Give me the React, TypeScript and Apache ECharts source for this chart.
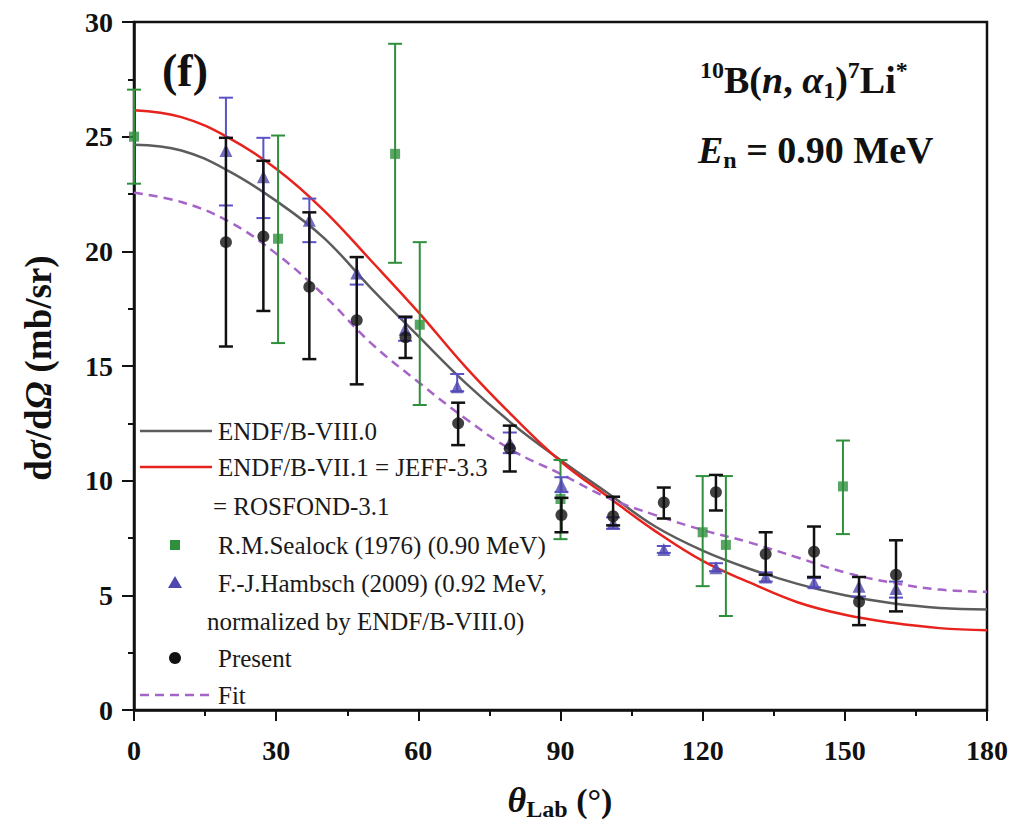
import React, { useEffect, useRef } from "react";
import * as echarts from "echarts";

// ---- curves (every 10 degrees) ----
const curveAngles = [0, 10, 20, 30, 40, 50, 60, 70, 80, 90, 100, 110, 120, 130, 140, 150, 160, 170, 180];
const endf80 = [24.65, 24.4, 23.5, 22.2, 20.6, 18.4, 16.3, 14.25, 12.45, 10.9, 9.45, 8.0, 6.95, 6.15, 5.5, 5.0, 4.65, 4.45, 4.38];
const endf71 = [26.15, 25.85, 24.95, 23.6, 21.8, 19.6, 17.35, 14.95, 12.8, 10.85, 9.3, 7.8, 6.5, 5.55, 4.7, 4.15, 3.8, 3.57, 3.48];
const fitCurve = [22.55, 22.15, 21.3, 19.9, 18.1, 16.0, 14.3, 12.7, 11.3, 10.3, 9.25, 8.5, 7.85, 7.3, 6.65, 6.0, 5.55, 5.25, 5.15];

// ---- Present ----
const presentAngles = [19.4, 27.3, 37, 47, 57.3, 68.4, 79.3, 90.2, 101.1, 111.8, 122.8, 133.3, 143.5, 153, 160.8];
const presentValues = [20.4, 20.65, 18.45, 17.0, 16.25, 12.5, 11.4, 8.5, 8.45, 9.05, 9.5, 6.8, 6.9, 4.72, 5.9];
const presentLow = [15.85, 17.4, 15.3, 14.2, 15.35, 11.55, 10.4, 7.75, 8.05, 8.35, 8.7, 5.9, 5.8, 3.7, 4.3];
const presentHigh = [24.95, 23.95, 21.7, 19.75, 17.15, 13.4, 12.4, 9.25, 9.3, 9.7, 10.25, 7.75, 8.0, 5.8, 7.4];

// ---- F.-J. Hambsch (2009) ----
const hambschAngles = [19.4, 27.3, 37, 47, 57.2, 68.2, 79.3, 90.2, 101.1, 111.8, 122.8, 133.3, 143.5, 153, 160.8];
const hambschValues = [24.4, 23.25, 21.35, 19.05, 16.6, 14.1, 11.65, 9.8, 8.15, 7.0, 6.2, 5.8, 5.55, 5.4, 5.3];
const hambschLow = [22.0, 21.45, 20.4, 18.55, 16.1, 13.9, 11.2, 9.5, 7.9, 6.85, 6.05, 5.6, 5.35, 4.95, 4.9];
const hambschHigh = [26.7, 24.95, 22.3, 19.75, 17.1, 14.65, 12.1, 10.15, 8.4, 7.15, 6.4, 6.0, 5.75, 5.8, 5.6];

// ---- R.M. Sealock (1976) ----
const sealockAngles = [0, 30.4, 55.1, 60.3, 90, 120, 124.9, 149.6];
const sealockValues = [25.0, 20.55, 24.25, 16.8, 9.2, 7.75, 7.2, 9.75];
const sealockLow = [22.95, 16.0, 19.5, 13.3, 7.45, 5.4, 4.1, 7.67];
const sealockHigh = [27.05, 25.05, 29.05, 20.4, 10.9, 10.2, 10.2, 11.75];

// ---- axes ----
const xTicks = [0, 30, 60, 90, 120, 150, 180];
const yTicks = [0, 5, 10, 15, 20, 25, 30];

const FONT = "'Liberation Serif', 'Times New Roman', serif";
const C_GRAY = "#5c5c5c";
const C_RED = "#e8221c";
const C_FIT = "#a664c8";
const C_GREEN = "#2f8f3c";
const C_BLUE = "#4f47b0";
const C_BLUE_ERR = "#5b52c6";
const C_BLACK = "#111111";

function errorSeries(angles: number[], low: number[], high: number[], color: string, width: number, cap: number, z: number) {
  return {
    type: "custom",
    z,
    silent: true,
    data: angles.map((a, i) => [a, low[i], high[i]]),
    renderItem: (params: any, api: any) => {
      const x = api.value(0);
      const pLo = api.coord([x, api.value(1)]);
      const pHi = api.coord([x, api.value(2)]);
      const hw = cap / 2;
      const style = { stroke: color, lineWidth: width };
      return {
        type: "group",
        children: [
          { type: "line", shape: { x1: pLo[0], y1: pLo[1], x2: pHi[0], y2: pHi[1] }, style },
          { type: "line", shape: { x1: pLo[0] - hw, y1: pLo[1], x2: pLo[0] + hw, y2: pLo[1] }, style },
          { type: "line", shape: { x1: pHi[0] - hw, y1: pHi[1], x2: pHi[0] + hw, y2: pHi[1] }, style },
        ],
      };
    },
  };
}

const richBase = {
  b: { fontFamily: FONT, fontWeight: "bold", fontSize: 38, lineHeight: 44, fill: "#111" },
  bi: { fontFamily: FONT, fontWeight: "bold", fontStyle: "italic", fontSize: 38, lineHeight: 44, fill: "#111" },
  sup: { fontFamily: FONT, fontWeight: "bold", fontSize: 24, lineHeight: 24, verticalAlign: "top", fill: "#111" },
  sub: { fontFamily: FONT, fontWeight: "bold", fontSize: 24, lineHeight: 24, verticalAlign: "bottom", fill: "#111" },
};

const xTitleRich = {
  bi: { fontFamily: FONT, fontWeight: "bold", fontStyle: "italic", fontSize: 36, lineHeight: 42, fill: "#111" },
  b: { fontFamily: FONT, fontWeight: "bold", fontSize: 34, lineHeight: 42, fill: "#111" },
  sub: { fontFamily: FONT, fontWeight: "bold", fontSize: 24, lineHeight: 24, verticalAlign: "bottom", fill: "#111" },
};

function legendText(x: number, y: number, text: string) {
  return {
    type: "text",
    x,
    y,
    z: 100,
    style: { text, fontFamily: FONT, fontSize: 25, fill: "#1a1a1a", align: "left", verticalAlign: "middle" },
  };
}

export default function App() {
  const ref = useRef<HTMLDivElement>(null);
  useEffect(() => {
    if (!ref.current) return;
    const chart = echarts.init(ref.current, undefined, { renderer: "svg" });
    const lineData = (vals: number[]) => curveAngles.map((a, i) => [a, vals[i]]);
    const option: any = {
      animation: false,
      backgroundColor: "#ffffff",
      grid: { left: 134, right: 25, top: 22, bottom: 117, show: true, borderColor: "#111", borderWidth: 2.5, backgroundColor: "transparent" },
      xAxis: {
        type: "value",
        min: xTicks[0],
        max: xTicks[xTicks.length - 1],
        interval: 30,
        axisLine: { show: true, onZero: false, lineStyle: { color: "#111", width: 2.5 } },
        axisTick: { show: true, inside: false, length: 11, lineStyle: { color: "#111", width: 2 } },
        minorTick: { show: true, splitNumber: 2, length: 6, lineStyle: { color: "#111", width: 2 } },
        splitLine: { show: false },
        axisLabel: { margin: 26, fontFamily: FONT, fontWeight: "bold", fontSize: 28, color: "#111" },
      },
      yAxis: {
        type: "value",
        min: yTicks[0],
        max: yTicks[yTicks.length - 1],
        interval: 5,
        axisLine: { show: true, onZero: false, lineStyle: { color: "#111", width: 2.5 } },
        axisTick: { show: true, inside: false, length: 12, lineStyle: { color: "#111", width: 2 } },
        minorTick: { show: true, splitNumber: 2, length: 6, lineStyle: { color: "#111", width: 2 } },
        splitLine: { show: false },
        axisLabel: { margin: 21, fontFamily: FONT, fontWeight: "bold", fontSize: 28, color: "#111" },
      },
      series: [
        { type: "line", name: "ENDF/B-VIII.0", data: lineData(endf80), smooth: 0.4, showSymbol: false, lineStyle: { color: C_GRAY, width: 2.5 }, z: 2 },
        { type: "line", name: "ENDF/B-VII.1", data: lineData(endf71), smooth: 0.4, showSymbol: false, lineStyle: { color: C_RED, width: 2.5 }, z: 2 },
        { type: "line", name: "Fit", data: lineData(fitCurve), smooth: 0.4, showSymbol: false, lineStyle: { color: C_FIT, width: 2.5, type: [9, 6] }, z: 2 },
        errorSeries(sealockAngles, sealockLow, sealockHigh, C_GREEN, 2, 14, 3),
        { type: "scatter", name: "Sealock", data: sealockAngles.map((a, i) => [a, sealockValues[i]]), symbol: "rect", symbolSize: 10, itemStyle: { color: C_GREEN }, z: 4 },
        errorSeries(hambschAngles, hambschLow, hambschHigh, C_BLUE_ERR, 2, 14, 5),
        { type: "scatter", name: "Hambsch", data: hambschAngles.map((a, i) => [a, hambschValues[i]]), symbol: "triangle", symbolSize: 13, itemStyle: { color: C_BLUE }, z: 6 },
        errorSeries(presentAngles, presentLow, presentHigh, C_BLACK, 2.5, 14, 7),
        { type: "scatter", name: "Present", data: presentAngles.map((a, i) => [a, presentValues[i]]), symbol: "circle", symbolSize: 12, itemStyle: { color: C_BLACK }, z: 8 },
      ],
      graphic: [
        // panel label
        { type: "text", x: 162, y: 70, z: 100, style: { text: "(f)", fontFamily: FONT, fontWeight: "bold", fontSize: 46, fill: "#111", align: "left", verticalAlign: "middle" } },
        // reaction
        {
          type: "text", x: 700, y: 80, z: 100,
          style: { text: "{sup|10}{b|B(}{bi|n}{b|, }{bi|α}{sub|1}{b|)}{sup|7}{b|Li}{sup|*}", rich: richBase, align: "left", verticalAlign: "middle" },
        },
        {
          type: "text", x: 698, y: 150, z: 100,
          style: { text: "{bi|E}{sub|n}{b| = 0.90 MeV}", rich: richBase, align: "left", verticalAlign: "middle" },
        },
        // y axis title
        {
          type: "text", x: 38, y: 368, rotation: Math.PI / 2, z: 100,
          style: {
            text: "{b|d}{bi|σ}{b|/d}{bi|Ω}{b| (mb/sr)}",
            rich: {
              b: { fontFamily: FONT, fontWeight: "bold", fontSize: 37, fill: "#111" },
              bi: { fontFamily: FONT, fontWeight: "bold", fontStyle: "italic", fontSize: 37, fill: "#111" },
            },
            align: "center", verticalAlign: "middle",
          },
        },
        // x axis title
        {
          type: "text", x: 560, y: 800, z: 100,
          style: { text: "{bi|θ}{sub|Lab}{b| (°)}", rich: xTitleRich, align: "center", verticalAlign: "middle" },
        },
        // legend
        { type: "line", z: 100, shape: { x1: 140, y1: 431, x2: 212, y2: 431 }, style: { stroke: C_GRAY, lineWidth: 2.5 } },
        legendText(218, 431, "ENDF/B-VIII.0"),
        { type: "line", z: 100, shape: { x1: 140, y1: 467, x2: 212, y2: 467 }, style: { stroke: C_RED, lineWidth: 2.5 } },
        legendText(218, 467, "ENDF/B-VII.1 = JEFF-3.3"),
        legendText(213, 506, "= ROSFOND-3.1"),
        { type: "rect", z: 100, shape: { x: 170, y: 540, width: 10, height: 10 }, style: { fill: C_GREEN } },
        legendText(218, 545, "R.M.Sealock (1976) (0.90 MeV)"),
        { type: "polygon", z: 100, shape: { points: [[175, 576], [182, 588], [168, 588]] }, style: { fill: C_BLUE } },
        legendText(218, 583, "F.-J.Hambsch (2009) (0.92 MeV,"),
        legendText(207, 621, "normalized by ENDF/B-VIII.0)"),
        { type: "circle", z: 100, shape: { cx: 175, cy: 658, r: 6 }, style: { fill: C_BLACK } },
        legendText(218, 658, "Present"),
        { type: "line", z: 100, shape: { x1: 140, y1: 695, x2: 212, y2: 695 }, style: { stroke: C_FIT, lineWidth: 2.5, lineDash: [9, 6] } },
        legendText(218, 695, "Fit"),
      ],
    };
    chart.setOption(option);
    return () => chart.dispose();
  }, []);
  return <div ref={ref} style={{ position: "fixed", left: 0, top: 0, width: 1012, height: 827, background: "#fff" }} />;
}
